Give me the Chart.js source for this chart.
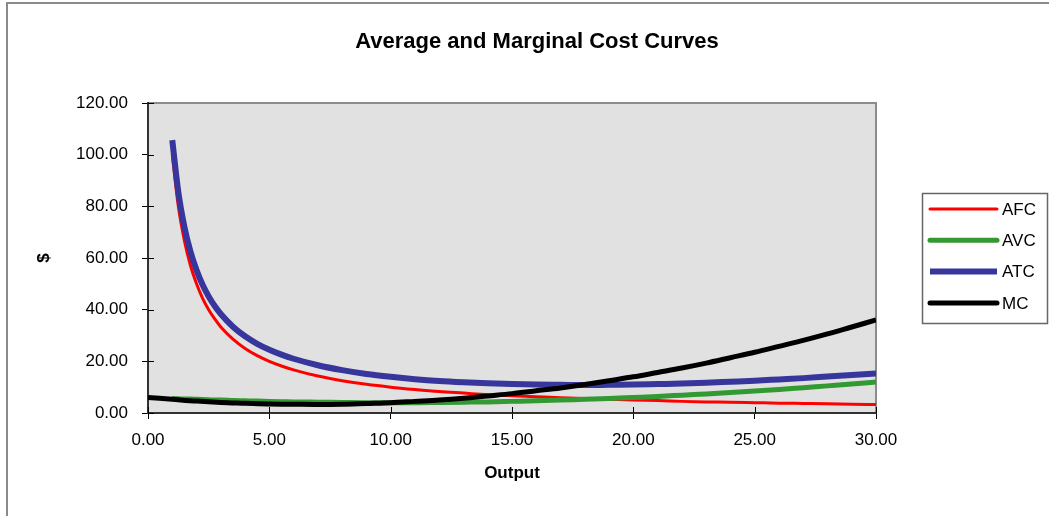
<!DOCTYPE html>
<html><head><meta charset="utf-8">
<script src="https://cdn.jsdelivr.net/npm/chart.js@4.4.1/dist/chart.umd.min.js"></script>
<style>
html,body{margin:0;padding:0;background:#fff;}
#wrap{position:relative;width:1049px;height:516px;overflow:hidden;}
#frame{position:absolute;left:6px;top:2px;width:1100px;height:600px;border-left:2px solid #8a8a8a;border-top:2px solid #8a8a8a;}
canvas{position:absolute;left:0;top:0;}
</style></head><body>
<div id="wrap"><div id="frame"></div><canvas id="c" width="1049" height="516"></canvas></div>
<script>
const chartTitle = 'Average and Marginal Cost Curves';
const xAxisTitle = 'Output';
const yAxisTitle = '$';
const seriesNames = ['AFC', 'AVC', 'ATC', 'MC'];
const seriesColors = ['#ff0000', '#339933', '#36369c', '#000000'];

const outputQ = [1, 1.25, 1.5, 1.75, 2, 2.25, 2.5, 2.75, 3, 3.5, 4, 4.5, 5, 5.5, 6, 7, 8, 9, 10, 11, 12, 13, 14, 15, 16, 17, 18, 19, 20, 21, 22, 23, 24, 25, 26, 27, 28, 29, 30];
const afc = [100, 80, 66.7, 57.1, 50, 44.4, 40, 36.4, 33.3, 28.6, 25, 22.2, 20, 18.2, 16.7, 14.3, 12.5, 11.1, 10, 9.1, 8.3, 7.7, 7.1, 6.7, 6.3, 5.9, 5.6, 5.3, 5, 4.8, 4.5, 4.3, 4.2, 4, 3.8, 3.7, 3.6, 3.4, 3.3];
const avc = [5.6, 5.5, 5.4, 5.4, 5.3, 5.2, 5.1, 5.0, 5.0, 4.8, 4.7, 4.6, 4.5, 4.4, 4.3, 4.2, 4.1, 4.0, 4.0, 4.0, 4.1, 4.2, 4.3, 4.5, 4.7, 5.0, 5.3, 5.6, 6.0, 6.4, 6.9, 7.4, 7.9, 8.5, 9.1, 9.8, 10.5, 11.2, 12.0];
const atc = [105.6, 85.5, 72.1, 62.5, 55.3, 49.6, 45.1, 41.4, 38.3, 33.4, 29.7, 26.8, 24.5, 22.6, 21.0, 18.5, 16.6, 15.1, 14.0, 13.1, 12.4, 11.9, 11.5, 11.2, 11.0, 10.9, 10.8, 10.9, 11.0, 11.2, 11.4, 11.7, 12.1, 12.5, 13.0, 13.5, 14.1, 14.7, 15.3];
const mcQ = [0, 1, 2, 3, 4, 5, 6, 7, 8, 9, 10, 11, 12, 13, 14, 15, 16, 17, 18, 19, 20, 21, 22, 23, 24, 25, 26, 27, 28, 29, 30];
const mc = [6.0, 5.3, 4.6, 4.1, 3.8, 3.5, 3.4, 3.3, 3.4, 3.7, 4.0, 4.5, 5.0, 5.7, 6.6, 7.5, 8.6, 9.7, 11.0, 12.5, 14.0, 15.7, 17.4, 19.3, 21.4, 23.5, 25.8, 28.1, 30.6, 33.3, 36.0];

const xTickValues = [0, 5, 10, 15, 20, 25, 30];
const yTickValues = [0, 20, 40, 60, 80, 100, 120];

const FONT = '"Liberation Sans", Arial, sans-serif';
Chart.defaults.font.family = FONT;
Chart.defaults.color = '#000';

function pts(xs, ys) { return xs.map((x, i) => ({ x: x, y: ys[i] })); }

const plotDeco = {
  id: 'plotDeco',
  beforeDraw(chart) {
    const { ctx, chartArea: a } = chart;
    ctx.save();
    ctx.fillStyle = '#e1e1e1';
    ctx.fillRect(a.left, a.top, a.right - a.left, a.bottom - a.top);
    ctx.strokeStyle = '#8c8c8c';
    ctx.lineWidth = 2;
    ctx.beginPath();
    ctx.moveTo(a.left, a.top);
    ctx.lineTo(a.right, a.top);
    ctx.lineTo(a.right, a.bottom);
    ctx.stroke();
    ctx.restore();
  },
  beforeDatasetsDraw(chart) {
    const { ctx, chartArea: a, scales } = chart;
    ctx.save();
    ctx.strokeStyle = '#000';
    ctx.lineWidth = 1;
    ctx.beginPath();
    scales.x.ticks.forEach(t => {
      const p = Math.round(scales.x.getPixelForValue(t.value)) + 0.5;
      ctx.moveTo(p, a.bottom); ctx.lineTo(p, a.bottom - 6);
    });
    scales.y.ticks.forEach(t => {
      const p = Math.round(scales.y.getPixelForValue(t.value)) + 0.5;
      ctx.moveTo(a.left, p); ctx.lineTo(a.left + 6, p);
    });
    ctx.stroke();
    ctx.restore();
  }
};

const titleText = {
  id: 'titleText',
  afterDraw(chart) {
    const ctx = chart.ctx;
    ctx.save();
    ctx.fillStyle = '#000';
    ctx.font = 'bold 22px ' + FONT;
    ctx.textAlign = 'center';
    ctx.textBaseline = 'middle';
    ctx.fillText(chartTitle, 537, 42);
    ctx.restore();
  }
};

const boxLegend = {
  id: 'boxLegend',
  afterDraw(chart) {
    const ctx = chart.ctx;
    const x0 = 922, y0 = 193, w = 125, h = 130;
    ctx.save();
    ctx.fillStyle = '#fff';
    ctx.fillRect(x0, y0, w, h);
    ctx.strokeStyle = '#666';
    ctx.lineWidth = 1.5;
    ctx.strokeRect(x0 + 0.5, y0 + 0.5, w, h);
    chart.data.datasets.forEach((ds, i) => {
      const y = 209 + i * 31.3;
      ctx.strokeStyle = ds.borderColor;
      ctx.lineWidth = ds.borderWidth;
      ctx.lineCap = ds.label === 'ATC' ? 'butt' : 'round';
      ctx.beginPath();
      ctx.moveTo(930, y); ctx.lineTo(997, y);
      ctx.stroke();
      ctx.fillStyle = '#000';
      ctx.font = '17px ' + FONT;
      ctx.textAlign = 'left';
      ctx.textBaseline = 'middle';
      ctx.fillText(ds.label, 1002, y + 1);
    });
    ctx.restore();
  }
};

const datasets = [
  { label: seriesNames[0], data: pts(outputQ, afc), borderColor: seriesColors[0], borderWidth: 3, order: 3 },
  { label: seriesNames[1], data: pts(outputQ, avc), borderColor: seriesColors[1], borderWidth: 5, order: 2 },
  { label: seriesNames[2], data: pts(outputQ, atc), borderColor: seriesColors[2], borderWidth: 6, order: 1 },
  { label: seriesNames[3], data: pts(mcQ, mc), borderColor: seriesColors[3], borderWidth: 5, order: 0 }
].map(d => Object.assign(d, { pointRadius: 0, fill: false, cubicInterpolationMode: 'monotone', borderJoinStyle: 'round' }));

new Chart(document.getElementById('c'), {
  type: 'line',
  data: { datasets: datasets },
  options: {
    responsive: false,
    devicePixelRatio: 1,
    animation: false,
    layout: { padding: { left: 0, right: 173, top: 103, bottom: 0 } },
    plugins: {
      legend: { display: false },
      tooltip: { enabled: false },
      title: { display: false }
    },
    scales: {
      x: {
        type: 'linear', min: xTickValues[0], max: xTickValues[xTickValues.length - 1],
        afterBuildTicks(s) { s.ticks = xTickValues.map(v => ({ value: v })); },
        ticks: { callback: v => Number(v).toFixed(2), color: '#000', font: { size: 17 }, padding: 11, maxRotation: 0, autoSkip: false },
        grid: { display: true, drawOnChartArea: false, drawTicks: true, tickLength: 6, tickColor: '#000', color: '#000', lineWidth: 1 },
        border: { display: true, color: '#333', width: 2 },
        title: { display: true, text: xAxisTitle, color: '#000', font: { size: 17, weight: 'bold' }, padding: { top: 0, bottom: 32 } },
        afterFit(s) { s.height = 103; }
      },
      y: {
        type: 'linear', min: yTickValues[0], max: yTickValues[yTickValues.length - 1],
        afterBuildTicks(s) { s.ticks = yTickValues.map(v => ({ value: v })); },
        ticks: { callback: v => Number(v).toFixed(2), color: '#000', font: { size: 17 }, padding: 14 },
        grid: { display: true, drawOnChartArea: false, drawTicks: true, tickLength: 6, tickColor: '#000', color: '#000', lineWidth: 1 },
        border: { display: true, color: '#333', width: 2 },
        title: { display: true, text: yAxisTitle, color: '#000', font: { size: 17, weight: 'bold' }, padding: { top: 34, bottom: 0 } },
        afterFit(s) { s.width = 148; }
      }
    }
  },
  plugins: [plotDeco, titleText, boxLegend]
});
</script>
</body></html>
